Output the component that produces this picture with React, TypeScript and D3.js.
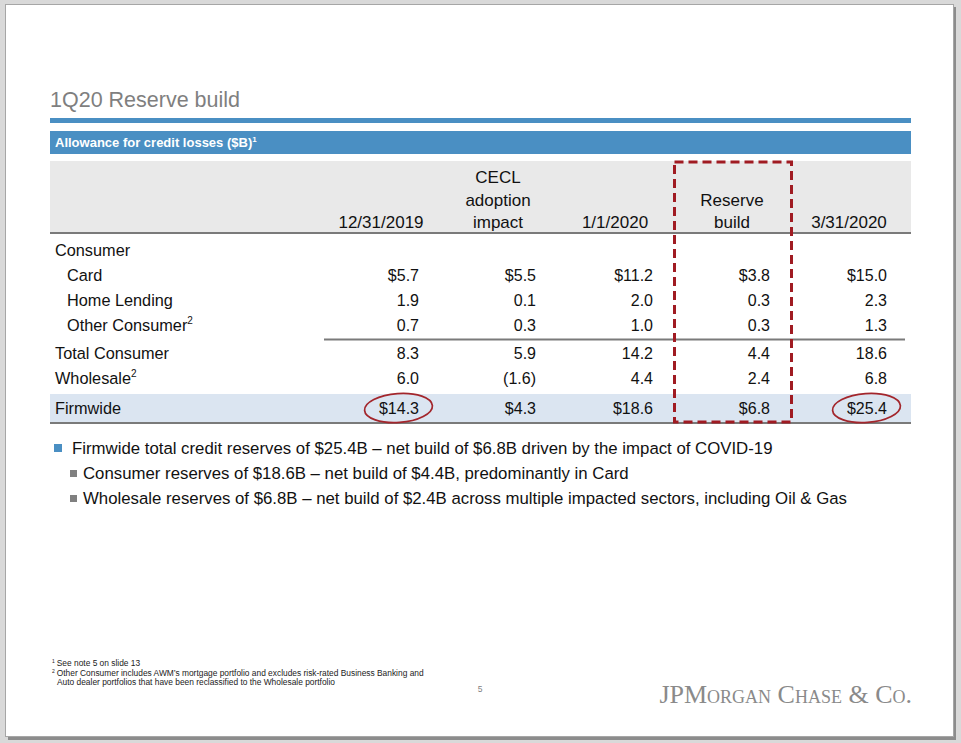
import React from "react";
import * as d3 from "d3";

// table content
const columnHeaders = [["12/31/2019"], ["CECL", "adoption", "impact"], ["1/1/2020"], ["Reserve", "build"], ["3/31/2020"]];
const columnKeys = ["dec2019", "cecl", "jan2020", "build", "mar2020"];
const rowLabels = ["Consumer", "Card", "Home Lending", "Other Consumer", "Total Consumer", "Wholesale", "Firmwide"];
const rowIndent = [false, true, true, true, false, false, false];
const rowFootnote = ["", "", "", "2", "", "2", ""];
const dollarRows = ["Card", "Firmwide"];

const dec2019 = [null, 5.7, 1.9, 0.7, 8.3, 6.0, 14.3];
const cecl = [null, 5.5, 0.1, 0.3, 5.9, -1.6, 4.3];
const jan2020 = [null, 11.2, 2.0, 1.0, 14.2, 4.4, 18.6];
const build = [null, 3.8, 0.3, 0.3, 4.4, 2.4, 6.8];
const mar2020 = [null, 15.0, 2.3, 1.3, 18.6, 6.8, 25.4];
const seriesValues = [dec2019, cecl, jan2020, build, mar2020];

const circledColumns = ["dec2019", "mar2020"];
const highlightColumn = "build";

const bullets = [
  { level: 0, text: "Firmwide total credit reserves of $25.4B \u2013 net build of $6.8B driven by the impact of COVID-19" },
  { level: 1, text: "Consumer reserves of $18.6B \u2013 net build of $4.4B, predominantly in Card" },
  { level: 1, text: "Wholesale reserves of $6.8B \u2013 net build of $2.4B across multiple impacted sectors, including Oil & Gas" },
];

const footnotes = [
  { mark: "1", lines: ["See note 5 on slide 13"] },
  {
    mark: "2",
    lines: [
      "Other Consumer includes AWM\u2019s mortgage portfolio and excludes risk-rated Business Banking and",
      "Auto dealer portfolios that have been reclassified to the Wholesale portfolio",
    ],
  },
];

const W = 961;
const H = 743;
const SANS = "'Liberation Sans', Arial, sans-serif";
const BLUE = "#4a8fc3";
const RED = "#a01b22";
const GRAY_TEXT = "#7f7f7f";

const fmt = d3.format(".1f");
function cellText(v: number | null, label: string) {
  if (v == null) return "";
  const s = v < 0 ? `(${fmt(-v)})` : fmt(v);
  return dollarRows.includes(label) ? "$" + s : s;
}

export default function App() {
  const left = 50;
  const right = 911;

  const x = d3.scalePoint<string>().domain(columnKeys).range([381, 849]);
  const valueRight = (k: string) => (x(k) as number) + 38;

  // rows: evenly spaced, with a little extra room under the subtotal lines
  const extra = [0, 0, 0, 0, 3, 3, 8];
  const y = d3.scaleLinear().domain([0, 1]).range([256, 281]);
  const rowY = (i: number) => y(i) + extra[i];

  const headLine = d3.scaleLinear().domain([0, 1]).range([228, 205.5]);

  const firmIdx = rowLabels.indexOf("Firmwide");
  const firmY = rowY(firmIdx);
  const otherIdx = rowLabels.indexOf("Other Consumer");

  const hx = x(highlightColumn) as number;
  const step = x.step();

  return (
    <svg width={W} height={H} style={{ position: "absolute", left: 0, top: 0 }} fontFamily={SANS}>
      {/* slide frame */}
      <rect x={0} y={0} width={W} height={H} fill="#d9d9d9" />
      <rect x={8} y={7} width={948} height={733} fill="#8c8c8c" />
      <rect x={5.5} y={4.5} width={948} height={732} fill="#ffffff" stroke="#a6a6a6" />

      {/* title */}
      <text x={left} y={107} fontSize={21.5} fill={GRAY_TEXT}>1Q20 Reserve build</text>
      <rect x={left} y={118} width={right - left} height={5} fill={BLUE} />
      <rect x={left} y={131} width={right - left} height={23} fill={BLUE} />
      <text x={55} y={147} fontSize={13} fontWeight="bold" fill="#ffffff">
        Allowance for credit losses ($B)
        <tspan fontSize={8} dy={-5}>1</tspan>
      </text>

      {/* column header area */}
      <rect x={left} y={161} width={right - left} height={72} fill="#e9e9e9" />
      <line x1={left} x2={right} y1={233} y2={233} stroke="#7a7a7a" strokeWidth={2} />
      {columnKeys.map((k, ci) => {
        const lines = columnHeaders[ci];
        return lines.map((t, li) => (
          <text key={k + li} x={x(k)} y={headLine(lines.length - 1 - li)} fontSize={17} textAnchor="middle" fill="#111">
            {t}
          </text>
        ));
      })}

      {/* firmwide band */}
      <rect x={left} y={firmY - 20} width={right - left} height={28} fill="#dbe5f1" />

      {/* row labels */}
      {rowLabels.map((label, i) => (
        <text key={label} x={rowIndent[i] ? 67 : 55} y={rowY(i)} fontSize={16.3} fill="#111">
          {label}
          {rowFootnote[i] && (
            <tspan fontSize={10} dy={-7}>{rowFootnote[i]}</tspan>
          )}
        </text>
      ))}

      {/* values */}
      {columnKeys.map((k, ci) =>
        seriesValues[ci].map((v, ri) => (
          <text key={k + ri} x={valueRight(k)} y={rowY(ri)} fontSize={16} textAnchor="end" fill="#111">
            {cellText(v, rowLabels[ri])}
          </text>
        ))
      )}

      {/* rules */}
      <line x1={324} x2={905} y1={rowY(otherIdx) + 8.5} y2={rowY(otherIdx) + 8.5} stroke="#7a7a7a" strokeWidth={2} />
      <line x1={left} x2={right} y1={firmY + 9} y2={firmY + 9} stroke="#7a7a7a" strokeWidth={2} />

      {/* reserve build highlight */}
      <rect
        x={hx - step / 2 + 1}
        y={162}
        width={step}
        height={firmY + 8 - 162}
        fill="none"
        stroke={RED}
        strokeWidth={3}
        strokeDasharray="9 5"
      />

      {/* circled totals */}
      {circledColumns.map((k) => {
        const ci = columnKeys.indexOf(k);
        const t = cellText(seriesValues[ci][firmIdx], "Firmwide");
        const cx = valueRight(k) - t.length * 4.1;
        const cy = firmY - 6;
        return (
          <ellipse
            key={k}
            cx={cx}
            cy={cy}
            rx={34}
            ry={14.5}
            fill="none"
            stroke="#a3262c"
            strokeWidth={1.7}
            transform={`rotate(-4 ${cx} ${cy})`}
          />
        );
      })}

      {/* bullets */}
      {bullets.map((b, i) => {
        const by = 454 + i * 25;
        return (
          <g key={i}>
            {b.level === 0 ? (
              <rect x={54} y={by - 10} width={8} height={8} fill={BLUE} />
            ) : (
              <rect x={70} y={by - 9} width={7} height={7} fill="#808080" />
            )}
            <text x={b.level === 0 ? 72 : 83} y={by} fontSize={16.8} fill="#111">
              {b.text}
            </text>
          </g>
        );
      })}

      {/* footnotes */}
      {(() => {
        let ly = 666;
        return footnotes.map((f) =>
          f.lines.map((line, li) => {
            const yy = ly;
            ly += 9.5;
            return (
              <text key={f.mark + li} x={li === 0 ? 52 : 57} y={yy} fontSize={8.4} fill="#222">
                {li === 0 && (
                  <tspan fontSize={5} dy={-3}>{f.mark}</tspan>
                )}
                {li === 0 ? <tspan dy={3} dx={2}>{line}</tspan> : line}
              </text>
            );
          })
        );
      })()}

      {/* page number */}
      <text x={480} y={692} fontSize={8.5} fill={GRAY_TEXT} textAnchor="middle">5</text>

      {/* logo */}
      <text
        x={912}
        y={703}
        fontSize={26}
        textAnchor="end"
        fill="#8a8a8a"
        fontFamily="'Liberation Serif', 'DejaVu Serif', serif"
        style={{ fontVariant: "small-caps" }}
      >
        JPMorgan Chase &amp; Co.
      </text>
    </svg>
  );
}
